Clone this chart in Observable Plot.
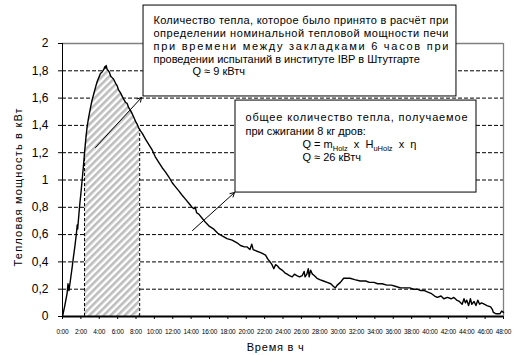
<!DOCTYPE html>
<html><head><meta charset="utf-8">
<script src="https://cdn.jsdelivr.net/npm/d3@7"></script>
<script src="https://cdn.jsdelivr.net/npm/@observablehq/plot@0.6"></script>
<style>html,body{margin:0;padding:0;background:#fff;}</style>
</head><body><div id="chart"></div>
<script>
// ---- data (hours since start, thermal power in kW) ----
const hours = [0,0.25,0.5,0.6,0.7,0.85,1.05,1.2,1.34,1.5,1.6,1.65,1.85,2.0,2.14,2.3,2.4,2.55,2.68,2.85,3.05,3.2,3.4,3.6,3.77,3.95,4.13,4.3,4.5,4.6,4.68,4.75,4.86,5.0,5.1,5.25,5.4,5.55,5.7,5.85,5.95,6.1,6.3,6.45,6.67,6.85,7.04,7.2,7.4,7.55,7.76,7.95,8.12,8.3,8.4,8.49,8.7,9.03,9.4,9.76,10.1,10.48,10.85,11.2,11.6,11.94,12.3,12.66,13.0,13.38,13.75,14.1,14.3,14.45,14.6,14.83,15.2,15.56,16.0,16.47,16.9,17.38,17.9,18.46,19.0,19.37,19.8,20.1,20.4,20.6,20.75,21.1,21.5,21.8,22.1,22.35,22.6,22.8,23.0,23.2,23.4,23.65,23.9,24.2,24.45,24.7,25.0,25.25,25.5,25.8,26.1,26.3,26.4,26.6,26.75,26.85,27.0,27.2,27.4,27.7,28.0,28.4,28.8,29.2,29.5,29.7,29.9,30.25,30.6,31.0,31.3,31.8,32.4,33.0,33.4,33.9,34.3,34.8,35.3,35.8,36.3,36.8,37.3,37.8,38.2,38.6,39.0,39.4,39.7,40.1,40.5,40.8,41.2,41.5,41.9,42.3,42.6,42.9,43.2,43.5,43.7,43.85,44.0,44.2,44.4,44.55,44.8,45.0,45.2,45.4,45.6,45.9,46.2,46.6,46.8,46.9,47.2,47.6,47.8,48.0];
const power = [0,0.08,0.17,0.24,0.19,0.26,0.36,0.44,0.51,0.60,0.67,0.64,0.80,0.90,1.00,1.12,1.20,1.31,1.39,1.46,1.53,1.58,1.63,1.68,1.72,1.75,1.78,1.79,1.81,1.83,1.82,1.84,1.81,1.80,1.79,1.76,1.75,1.74,1.72,1.70,1.69,1.66,1.64,1.62,1.59,1.57,1.56,1.53,1.51,1.49,1.46,1.43,1.41,1.38,1.37,1.36,1.34,1.30,1.26,1.22,1.17,1.13,1.09,1.06,1.02,0.98,0.95,0.92,0.89,0.86,0.83,0.80,0.79,0.80,0.76,0.75,0.72,0.69,0.66,0.64,0.61,0.59,0.57,0.56,0.54,0.52,0.51,0.51,0.49,0.53,0.49,0.48,0.47,0.46,0.45,0.42,0.40,0.38,0.35,0.38,0.37,0.35,0.34,0.32,0.31,0.30,0.29,0.31,0.30,0.29,0.30,0.33,0.29,0.31,0.35,0.29,0.34,0.31,0.30,0.28,0.27,0.26,0.25,0.24,0.22,0.21,0.23,0.25,0.28,0.28,0.28,0.27,0.26,0.26,0.25,0.25,0.24,0.24,0.23,0.23,0.22,0.21,0.21,0.21,0.20,0.20,0.19,0.19,0.18,0.17,0.15,0.14,0.15,0.13,0.14,0.13,0.14,0.12,0.11,0.09,0.13,0.10,0.12,0.08,0.13,0.09,0.11,0.08,0.12,0.09,0.10,0.09,0.08,0.07,0.05,0.03,0.02,0.02,0.04,0.03];

const xTicks = [0,2,4,6,8,10,12,14,16,18,20,22,24,26,28,30,32,34,36,38,40,42,44,46,48];
const yTicks = [0,0.2,0.4,0.6,0.8,1,1.2,1.4,1.6,1.8,2];
const gridValues = [0.2,0.4,0.6,0.8,1,1.2,1.4,1.6,1.8];
const hatchRange = [2.4, 8.4];

const xTitle = "Время в ч";
const yTitle = "Тепловая мощность в кВт";

const box1Lines = [
  "Количество тепла, которое было принято в расчёт при",
  "определении номинальной тепловой мощности печи",
  "при времени между закладками 6 часов при",
  "проведении испытаний в институте IBP в Штутгарте",
  "Q ≈ 9 кВтч"
];
const formulaParts = [
  {t: "Q = m"}, {t: "Holz", sub: true}, {t: "  x  H"}, {t: "uHolz", sub: true}, {t: "  x  η"}
];
const box2Lines = [
  "общее количество тепла, получаемое",
  "при сжигании 8 кг дров:",
  formulaParts.map(p => p.t).join(""),
  "Q ≈ 26 кВтч"
];

// ---- build tables ----
const data = hours.map((t, i) => ({t, v: power[i]}));
const hatchData = data.filter(d => d.t >= hatchRange[0] && d.t <= hatchRange[1]);
const hatchEdges = data.filter(d => d.t === hatchRange[0] || d.t === hatchRange[1]);

// annotation placement (data units)
const boxes = [
  {x1: 8.82, x2: 42.88, y1: 1.612, y2: 2.278},
  {x1: 18.83, x2: 45.06, y1: 0.908, y2: 1.582}
];
const lineRows = [
  {x: 9.90, y: 2.168, text: box1Lines[0], w: 295},
  {x: 9.90, y: 2.073, text: box1Lines[1], w: 295},
  {x: 9.90, y: 1.978, text: box1Lines[2], w: 295},
  {x: 9.90, y: 1.883, text: box1Lines[3]},
  {x: 14.15, y: 1.795, text: box1Lines[4]},
  {x: 19.92, y: 1.458, text: box2Lines[0], w: 222},
  {x: 19.92, y: 1.355, text: box2Lines[1]},
  {x: 26.12, y: 1.260, text: box2Lines[2], formula: true},
  {x: 26.12, y: 1.165, text: box2Lines[3]}
];
const arrows = [
  {x1: 3.59, y1: 1.238, x2: 8.6, y2: 1.604},
  {x1: 14.15, y1: 0.630, x2: 18.72, y2: 0.908}
];

const chart = Plot.plot({
  width: 526, height: 355,
  marginLeft: 62, marginRight: 23, marginTop: 43, marginBottom: 39,
  x: {domain: [0, 48]},
  y: {domain: [0, 2]},
  style: {fontFamily: "'Liberation Sans', Arial, sans-serif", fontSize: "11px", background: "#fff", color: "#000"},
  marks: [
    Plot.ruleY(gridValues, {x1: 0, x2: 48, stroke: "#000", strokeDasharray: "4,2", strokeWidth: 1}),
    Plot.ruleY([2], {x1: 0, x2: 48, stroke: "#808080", strokeWidth: 1.3}),
    Plot.ruleX([48], {y1: 0, y2: 2, stroke: "#808080", strokeWidth: 1.3}),
    Plot.areaY(hatchData, {x: "t", y: "v", fill: "url(#hatch)"}),
    Plot.ruleX(hatchEdges, {x: "t", y1: 0, y2: "v", stroke: "#000", strokeDasharray: "3,2", strokeWidth: 1}),
    Plot.lineY(data, {x: "t", y: "v", stroke: "#000", strokeWidth: 1.4}),
    Plot.arrow(arrows, {x1: "x1", y1: "y1", x2: "x2", y2: "y2", stroke: "#000", strokeWidth: 1, headLength: 7}),
    Plot.rect(boxes, {x1: "x1", x2: "x2", y1: "y1", y2: "y2", fill: "#fff", stroke: "#000", strokeWidth: 1}),
    Plot.text(lineRows, {x: "x", y: "y", text: "text", textAnchor: "start", fontSize: 11, fill: "#000"}),
    Plot.ruleX([0], {y1: 0, y2: 2, stroke: "#000", strokeWidth: 1}),
    Plot.ruleY([0], {x1: 0, x2: 48, stroke: "#000", strokeWidth: 2}),
    Plot.axisX({ticks: xTicks, tickFormat: d => d + ":00", tickSize: 3, tickPadding: 10, fontSize: 6.5, label: null}),
    Plot.axisY({ticks: yTicks, tickFormat: d => String(d).replace(".", ","), tickSize: 4, tickPadding: 10, fontSize: 12, label: null}),
    Plot.text([xTitle], {x: 23.2, y: -0.227, text: d => d, fontSize: 11, fill: "#000"}),
    Plot.text([yTitle], {x: -4.79, y: 0.95, text: d => d, fontSize: 11, rotate: -90, fill: "#000"})
  ]
});

document.getElementById("chart").appendChild(chart);

// ---- post-processing: hatch pattern, justification, subscripts ----
const svg = d3.select(chart);
svg.insert("defs", ":first-child").html(
  '<pattern id="hatch" patternUnits="userSpaceOnUse" width="5" height="5" patternTransform="rotate(45)">' +
  '<rect width="5" height="5" fill="#ffffff"/><rect width="2.6" height="5" fill="#bdbdbd"/></pattern>'
);
const widths = new Map(lineRows.filter(d => d.w).map(d => [d.text, d.w]));
svg.selectAll("text").each(function () {
  const txt = this.textContent;
  if (widths.has(txt)) {
    this.setAttribute("textLength", widths.get(txt));
    this.setAttribute("lengthAdjust", "spacing");
  }
  if (txt === box2Lines[2]) {
    const el = d3.select(this);
    el.text("").style("white-space", "pre");
    let shifted = false;
    for (const p of formulaParts) {
      const ts = el.append("tspan").text(p.t);
      if (p.sub && !shifted) { ts.attr("dy", 2.5).attr("font-size", 7.5); shifted = true; }
      else if (p.sub) { ts.attr("font-size", 7.5); }
      else if (shifted) { ts.attr("dy", -2.5); shifted = false; }
    }
  }
  if (txt === yTitle) this.style.letterSpacing = "1.2px";
  if (txt === xTitle) this.style.letterSpacing = "0.8px";
});
svg.selectAll('g[aria-label="x-axis tick label"] text').style("letter-spacing", "-0.2px");
</script>
</body></html>
